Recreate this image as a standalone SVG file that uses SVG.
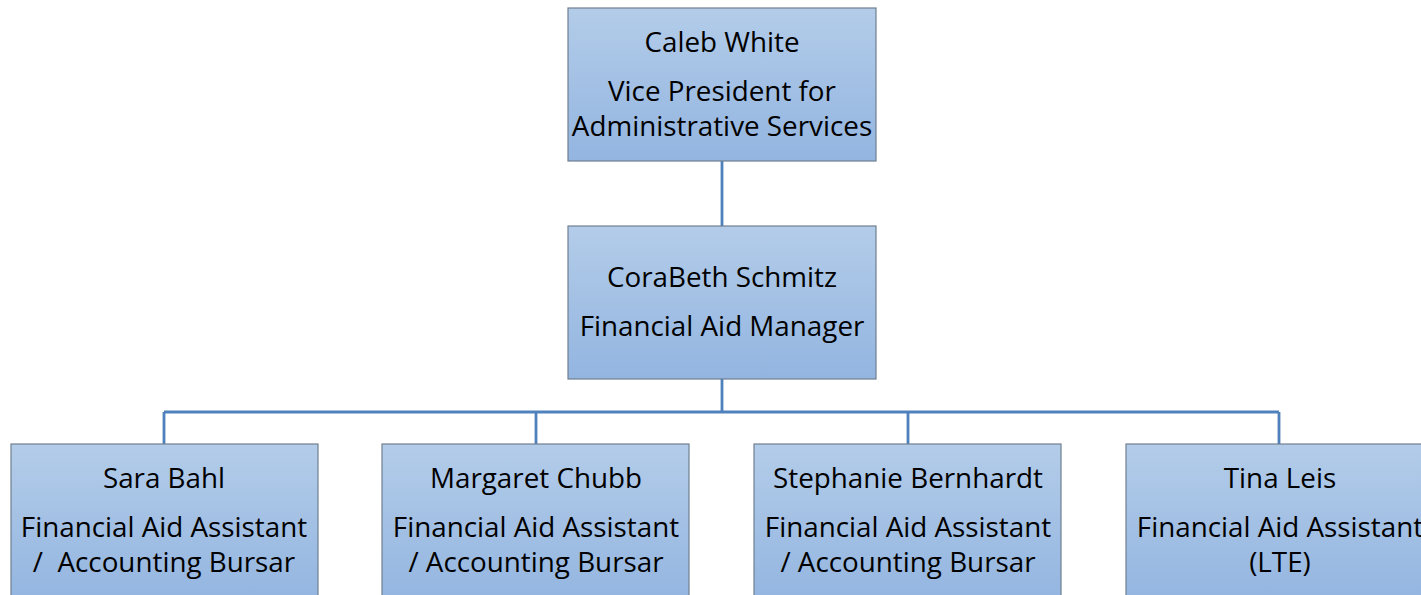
<svg xmlns="http://www.w3.org/2000/svg" width="1421" height="595" viewBox="0 0 1421 595">
<defs>
<linearGradient id="g" x1="0" y1="0" x2="0" y2="1">
<stop offset="0" stop-color="#b3cce9"/>
<stop offset="1" stop-color="#93b5e0"/>
</linearGradient>
<style>
.box{fill:url(#g);stroke:#6f7f90;stroke-width:1.2}
text{font-family:"Open Sans","Liberation Sans",sans-serif;font-size:27.8px;fill:#000;text-anchor:middle}
.c{fill:none;stroke:#4f81bd;stroke-width:2.8}
</style>
</defs>
<g id="connectors">
<path class="c" d="M722 161V226M722 379V412M164 412H1279M164 412V444M536 412V444M908 412V444M1279 412V444"/>
</g>
<g id="n1"><rect class="box" x="568" y="8" width="308" height="153"/>
<text x="722" y="52">Caleb White</text><text x="722" y="101">Vice President for</text><text x="722" y="136">Administrative Services</text></g>
<g id="n2"><rect class="box" x="568" y="226" width="308" height="153"/>
<text x="722" y="287">CoraBeth Schmitz</text><text x="722" y="336">Financial Aid Manager</text></g>
<g id="n3"><rect class="box" x="11" y="444" width="307" height="160"/>
<text x="164" y="488">Sara Bahl</text><text x="164" y="537">Financial Aid Assistant</text><text x="164" y="572" xml:space="preserve">/  Accounting Bursar</text></g>
<g id="n4"><rect class="box" x="382" y="444" width="307" height="160"/>
<text x="536" y="488">Margaret Chubb</text><text x="536" y="537">Financial Aid Assistant</text><text x="536" y="572">/ Accounting Bursar</text></g>
<g id="n5"><rect class="box" x="754" y="444" width="307" height="160"/>
<text x="908" y="488">Stephanie Bernhardt</text><text x="908" y="537">Financial Aid Assistant</text><text x="908" y="572">/ Accounting Bursar</text></g>
<g id="n6"><rect class="box" x="1126" y="444" width="307" height="160"/>
<text x="1280" y="488">Tina Leis</text><text x="1280" y="537">Financial Aid Assistant</text><text x="1280" y="572">(LTE)</text></g>
</svg>
